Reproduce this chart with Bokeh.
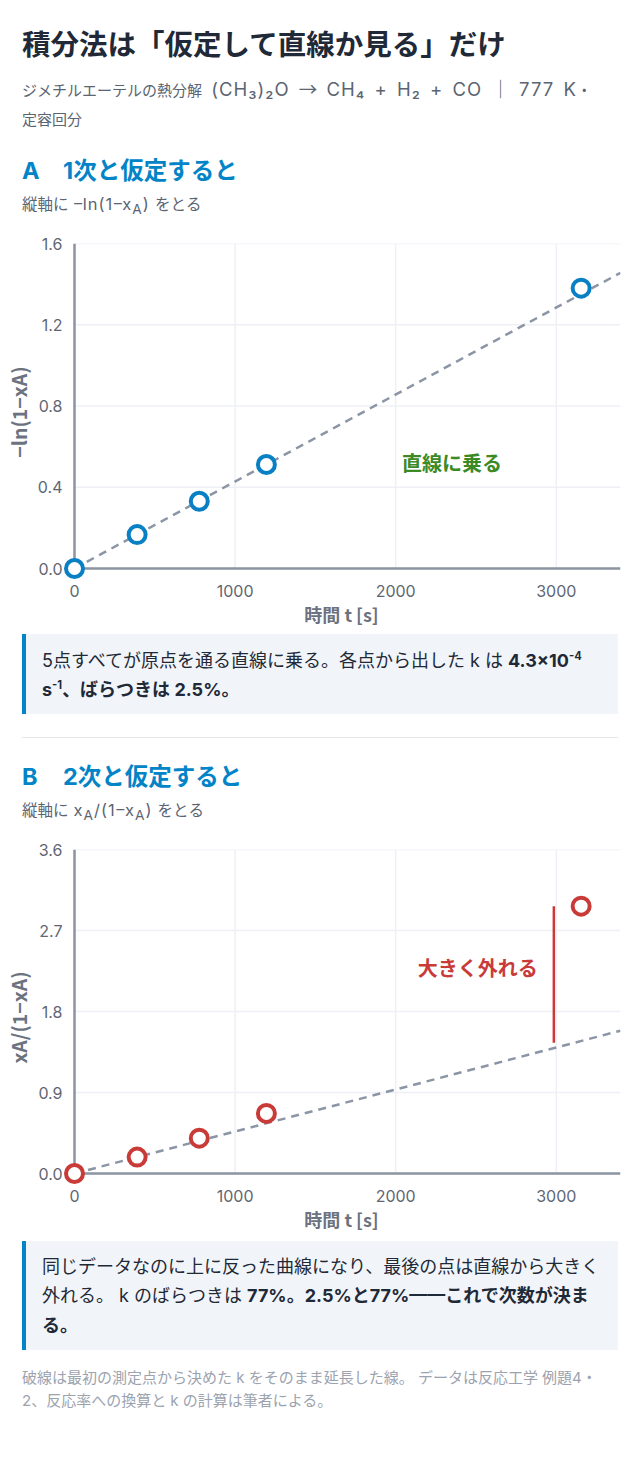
from bokeh.plotting import figure
from bokeh.models import Div, FixedTicker, Range1d, NumeralTickFormatter
from bokeh.layouts import column
from bokeh.embed import file_html
from bokeh.resources import INLINE
from bokeh.core.properties import value

# ---------------- data ----------------
t_s = [0, 390, 777, 1195, 3155]
first_order_y = [0.0, 0.167, 0.331, 0.512, 1.380]      # -ln(1-xA)
second_order_y = [0.0, 0.182, 0.393, 0.668, 2.970]     # xA/(1-xA)
x_ticks = [0, 1000, 2000, 3000]
yA_ticks = [0.0, 0.4, 0.8, 1.2, 1.6]
yB_ticks = [0.0, 0.9, 1.8, 2.7, 3.6]
x_max = 3400
labelA_pos = (2040, 0.52)
labelB_pos = (2885, 2.29)
marker_x = 2985

# ---------------- style / layout ----------------
FONT = "Inter, 'Noto Sans CJK JP', sans-serif"
CJK_FONT = "'Noto Sans CJK JP', sans-serif"
CSS_FONT = "Inter, 'Noto Sans CJK JP', sans-serif"
BLUE = "#0a80c4"
RED = "#c93b38"
GREEN = "#3b8a26"
AXIS = "#8c94a1"
GRID = "#eef0f5"
DASH = "#8b95a5"
TICK = "#5f6673"
ALABEL = "#6b7280"

PAGE_W = 632
FRAME_W = 546      # px from x=0 to x=x_max
PAD = 12           # px of room left of x=0 and below y=0 so origin markers are not clipped


def make_fig(yvals, yticks, ylabel, color, frame_h, top, height):
    y_top = yticks[-1]
    x_pad = PAD * x_max / FRAME_W
    y_pad = PAD * y_top / frame_h
    p = figure(width=PAGE_W, height=height, output_backend="svg", toolbar_location=None,
               x_range=Range1d(-x_pad, x_max), y_range=Range1d(-y_pad, y_top),
               min_border_left=74 - PAD, min_border_right=PAGE_W - 74 - FRAME_W,
               min_border_top=top, min_border_bottom=height - top - frame_h - PAD)
    p.outline_line_color = None
    p.background_fill_color = "white"
    p.border_fill_color = "white"
    p.xgrid.visible = False
    p.ygrid.visible = False
    p.xaxis.ticker = FixedTicker(ticks=x_ticks)
    p.yaxis.ticker = FixedTicker(ticks=yticks)
    p.yaxis.formatter = NumeralTickFormatter(format="0.0")
    p.xaxis.axis_label = "時間 t [s]"
    p.yaxis.axis_label = ylabel
    for ax in (p.xaxis[0], p.yaxis[0]):
        ax.axis_line_color = None
        ax.major_tick_line_color = None
        ax.minor_tick_line_color = None
        ax.major_tick_out = 0
        ax.major_tick_in = 0
        ax.major_label_text_font = FONT
        ax.major_label_text_font_size = "16px"
        ax.major_label_text_color = TICK
        ax.axis_label_text_font = CJK_FONT
        ax.axis_label_text_font_style = "bold"
        ax.axis_label_text_color = ALABEL
    p.xaxis.axis_label_text_font_size = "18px"
    p.yaxis.axis_label_text_font_size = "19.5px"
    p.xaxis.major_label_standoff = 4
    p.xaxis.axis_label_standoff = 1
    p.yaxis.major_label_standoff = 0
    p.yaxis.axis_label_standoff = 2

    # grid lines (stop at the axes)
    p.segment(x0=x_ticks, y0=[0] * len(x_ticks), x1=x_ticks, y1=[y_top] * len(x_ticks),
              line_color=GRID, line_width=1.5)
    p.segment(x0=[0] * len(yticks), y0=yticks, x1=[x_max] * len(yticks), y1=yticks,
              line_color=GRID, line_width=1.5)
    # axis lines through the origin
    p.segment(x0=[0, 0], y0=[0, 0], x1=[x_max, 0], y1=[0, y_top],
              line_color=AXIS, line_width=2.5)

    k = yvals[1] / t_s[1]
    p.line([0, x_max], [0, k * x_max], line_color=DASH, line_width=2.5, line_dash="8 6")
    p.scatter(t_s, yvals, marker="circle", size=17, fill_color="white",
              line_color=color, line_width=4)
    return p, k


figA, kA = make_fig(first_order_y, yA_ticks, "−ln(1−xA)", BLUE, 325, 8, 399)
figA.text([labelA_pos[0]], [labelA_pos[1]], text=["直線に乗る"], text_font=value(CJK_FONT),
          text_font_style="bold", text_font_size="20px", text_color=GREEN,
          text_align="left", text_baseline="middle")

figB, kB = make_fig(second_order_y, yB_ticks, "xA/(1−xA)", RED, 324, 17, 409)
figB.segment([marker_x], [kB * marker_x + 0.06], [marker_x], [second_order_y[-1]],
             line_color=RED, line_width=2.5)
figB.text([labelB_pos[0]], [labelB_pos[1]], text=["大きく外れる"], text_font=value(CJK_FONT),
          text_font_style="bold", text_font_size="20px", text_color=RED,
          text_align="right", text_baseline="middle")

# ---------------- text blocks ----------------
NOWRAP = "position:absolute;white-space:nowrap;"


def fw(c):
    return f"<span style=\"font-family:{CJK_FONT};letter-spacing:0\">{c}</span>"


SUP = "<sup style=\"line-height:0;font-size:0.62em\">{}</sup>"
SUB_A = "<sub style=\"line-height:0\">A</sub>"
MATH = "<span style=\"margin:0 5px;font-size:16.5px;letter-spacing:1px\">{}</span>"

subtitle = ("ジメチルエーテルの熱分解<span style=\"font-size:18.5px;word-spacing:3px;letter-spacing:1px\"> (CH₃)₂O "
            + fw("→") + " CH₄ + H₂ + CO " + fw("｜") + " 777 K</span>" + fw("・"))
descA = "縦軸に" + MATH.format(fw("−") + "ln(1" + fw("−") + "x" + SUB_A + ")") + "をとる"
descB = "縦軸に" + MATH.format("x" + SUB_A + "/(1" + fw("−") + "x" + SUB_A + ")") + "をとる"

header_html = f"""
<div style="position:relative;width:{PAGE_W}px;height:235px;font-family:{CSS_FONT};">
 <div style="{NOWRAP}left:22px;top:27px;line-height:36px;font-size:28.5px;font-weight:700;color:#1f2937;">積分法は「仮定して直線か見る」だけ</div>
 <div style="{NOWRAP}left:22px;top:73.5px;line-height:29px;font-size:15px;color:#5b6472;">{subtitle}<br>定容回分</div>
 <div style="{NOWRAP}left:22px;top:156px;line-height:30px;font-size:23.5px;font-weight:700;color:#0284c7;"><span style="display:inline-block;width:41px">A</span>1次と仮定すると</div>
 <div style="{NOWRAP}left:22px;top:191px;line-height:24px;font-size:15.5px;color:#5b6472;">{descA}</div>
</div>
"""

middle_html = f"""
<div style="position:relative;width:{PAGE_W}px;height:198px;font-family:{CSS_FONT};">
 <div style="position:absolute;left:22px;top:0px;width:596px;height:80px;box-sizing:border-box;background:#f1f5f9;border-left:4px solid #0284c7;">
  <div style="{NOWRAP}left:16px;top:11.5px;line-height:29px;font-size:18px;color:#1f2937;">5点すべてが原点を通る直線に乗る。各点から出した k は <b>4.3×10{SUP.format('-4')}</b><br><b>s{SUP.format('-1')}、ばらつきは 2.5%。</b></div>
 </div>
 <div style="position:absolute;left:22px;top:103px;width:596px;height:1px;background:#e5e7eb;"></div>
 <div style="{NOWRAP}left:22px;top:128px;line-height:30px;font-size:23.5px;font-weight:700;color:#0284c7;"><span style="display:inline-block;width:41px">B</span>2次と仮定すると</div>
 <div style="{NOWRAP}left:22px;top:163px;line-height:24px;font-size:15.5px;color:#5b6472;">{descB}</div>
</div>
"""

bottom_html = f"""
<div style="position:relative;width:{PAGE_W}px;height:211px;font-family:{CSS_FONT};">
 <div style="position:absolute;left:22px;top:0px;width:596px;height:109px;box-sizing:border-box;background:#f1f5f9;border-left:4px solid #0284c7;">
  <div style="{NOWRAP}left:16px;top:10.5px;line-height:29.5px;font-size:18px;color:#1f2937;">同じデータなのに上に反った曲線になり、最後の点は直線から大きく<br>外れる。 k のばらつきは <b>77%。2.5%と77%——これで次数が決ま</b><br><b>る。</b></div>
 </div>
 <div style="{NOWRAP}left:22px;top:124.5px;line-height:23px;font-size:15px;color:#9ca3af;">破線は最初の測定点から決めた k をそのまま延長した線。 データは反応工学 例題4・<br>2、反応率への換算と k の計算は筆者による。</div>
</div>
"""

header = Div(text=header_html, width=PAGE_W, height=235, margin=0)
middle = Div(text=middle_html, width=PAGE_W, height=198, margin=0)
bottom = Div(text=bottom_html, width=PAGE_W, height=211, margin=0)

layout = column(header, figA, middle, figB, bottom, spacing=0)

with open("out.html", "w") as f:
    f.write(file_html(layout, INLINE))
